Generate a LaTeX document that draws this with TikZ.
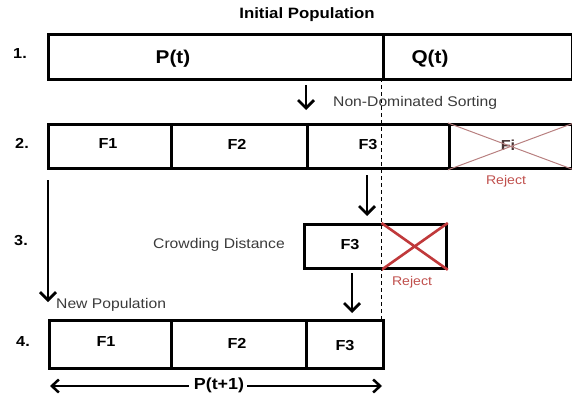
\documentclass[tikz,border=0pt]{standalone}
\usepackage{fontspec}
\setmainfont{Liberation Sans}[FakeStretch=1.12]
\usetikzlibrary{arrows.meta,calc}
\definecolor{rejred}{HTML}{C0504D}
\definecolor{crossred}{HTML}{C0393B}
\definecolor{softred}{HTML}{B88080}
\definecolor{notegray}{HTML}{3A3A3A}
\definecolor{fadedtext}{HTML}{4A3535}
\begin{document}
\begin{tikzpicture}[x=1pt,y=-1pt,
  cell/.style={draw=black, line width=2.8pt, rectangle, inner sep=0pt, anchor=north west},
  bigtxt/.style={font=\bfseries\fontsize{18.5}{18.5}\selectfont},
  celltxt/.style={font=\bfseries\fontsize{14.5}{14.5}\selectfont},
  numtxt/.style={font=\bfseries\fontsize{14.5}{14.5}\selectfont},
  titletxt/.style={font=\bfseries\fontsize{15}{15}\selectfont},
  note/.style={font=\fontsize{14}{14}\selectfont, text=notegray, inner sep=0pt},
  rejtxt/.style={font=\fontsize{12.6}{12.6}\selectfont, text=rejred, inner sep=0pt, anchor=base},
  flow/.style={line width=2.7pt, -{Straight Barb[length=8pt,width=16pt,line width=2.7pt]}},
  span/.style={line width=2.5pt, -{Straight Barb[length=7pt,width=13pt,line width=2.5pt]}},
  divide/.style={line width=1pt, dash pattern=on 4pt off 3pt},
]
\useasboundingbox (0,0) rectangle (572,396);

% row 1: initial population
\node[titletxt] (title) at (307,15) {Initial Population};
\node[cell, minimum width=335pt, minimum height=45pt] (pt) at (47,33) {};
\node[cell, minimum width=189pt, minimum height=45pt] (qt) at (382,33) {};
\node[bigtxt] (ptl) at (173,59) {P(t)};
\node[bigtxt] (qtl) at (430,59) {Q(t)};
\node[numtxt] (n1) at (20,54) {1.};

% row 2: fronts after non-dominated sorting
\node[cell, minimum width=123pt, minimum height=44pt] (f1) at (47,123) {};
\node[cell, minimum width=136pt, minimum height=44pt] (f2) at (170,123) {};
\node[cell, minimum width=142pt, minimum height=44pt] (f3) at (306,123) {};
\node[cell, minimum width=123pt, minimum height=44pt] (fi) at (448,123) {};
\node[celltxt] (f1l) at (108,144) {F1};
\node[celltxt] (f2l) at (237,144) {F2};
\node[celltxt] (f3l) at (368,145) {F3};
\node[celltxt, text=fadedtext] (fil) at (508,145) {Fi};
\draw[softred, line width=1pt] (fi.north west) -- (fi.south east)
                               (fi.south west) -- (fi.north east);
\node[rejtxt] (rej1) at (506,184) {Reject};
\node[numtxt] (n2) at (22,143) {2.};

% row 3: crowding distance on the last front
\node[cell, minimum width=142pt, minimum height=44pt] (cd) at (303,223) {};
\coordinate (cut) at (381.5,223);
\node[celltxt] (cdl) at (350,245) {F3};
\draw[crossred, line width=2.6pt] (cut |- cd.north) -- (cd.south east)
                                  (cut |- cd.south) -- (cd.north east);
\node[note, anchor=base west] (cdt) at (153,248) {Crowding Distance};
\node[rejtxt] (rej2) at (412,285) {Reject};
\node[numtxt] (n3) at (21,241) {3.};

% row 4: new population
\node[cell, minimum width=122pt, minimum height=48pt] (g1) at (48,319) {};
\node[cell, minimum width=135pt, minimum height=48pt] (g2) at (170,319) {};
\node[cell, minimum width=77pt, minimum height=48pt] (g3) at (305,319) {};
\node[celltxt] (g1l) at (106,342) {F1};
\node[celltxt] (g2l) at (237,343) {F2};
\node[celltxt] (g3l) at (345,346) {F3};
\node[numtxt] (n4) at (23,342) {4.};
\node[note, anchor=base west] (np) at (56,308) {New Population};

% size of the new population
\node[font=\bfseries\fontsize{16}{16}\selectfont, inner sep=0pt] (pt1) at (219,385) {P(t+1)};
\coordinate (bl) at (50,386);
\coordinate (br) at (382,386);
\draw[span] ($(bl -| pt1.west)+(-5,0)$) -- (bl);
\draw[span] ($(br -| pt1.east)+(3,0)$) -- (br);

% population cut-off line
\coordinate (cuttop) at (381.5,78);
\coordinate (cutbot) at (381.5,319);
\draw[divide] (cuttop) -- (cutbot);

% flow arrows
\coordinate (a1s) at (306,85);
\coordinate (a1e) at (306,110);
\draw[flow] (a1s) -- (a1e);
\node[note, anchor=base west] (nds) at (333,106) {Non-Dominated Sorting};

\coordinate (a2s) at (367,175);
\coordinate (a2e) at (367,216);
\draw[flow] (a2s) -- (a2e);

\coordinate (a3s) at (48,180);
\coordinate (a3e) at (48,302);
\draw[flow] (a3s) -- (a3e);

\coordinate (a4s) at (352,273);
\coordinate (a4e) at (352,313);
\draw[flow] (a4s) -- (a4e);
\end{tikzpicture}
\end{document}
